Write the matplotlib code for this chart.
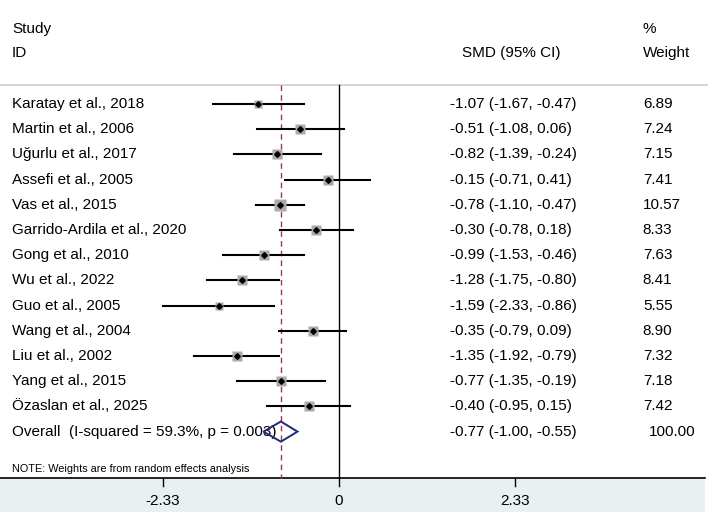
import matplotlib.pyplot as plt
from matplotlib.patches import Polygon, Rectangle

plt.rcParams['font.family'] = ['Liberation Sans', 'DejaVu Sans']

studies = ['Karatay et al., 2018', 'Martin et al., 2006', 'Uğurlu et al., 2017',
           'Assefi et al., 2005', 'Vas et al., 2015', 'Garrido-Ardila et al., 2020',
           'Gong et al., 2010', 'Wu et al., 2022', 'Guo et al., 2005',
           'Wang et al., 2004', 'Liu et al., 2002', 'Yang et al., 2015',
           'Özaslan et al., 2025']
smd = [-1.07, -0.51, -0.82, -0.15, -0.78, -0.30, -0.99, -1.28, -1.59, -0.35, -1.35, -0.77, -0.40]
lo = [-1.67, -1.08, -1.39, -0.71, -1.10, -0.78, -1.53, -1.75, -2.33, -0.79, -1.92, -1.35, -0.95]
hi = [-0.47, 0.06, -0.24, 0.41, -0.47, 0.18, -0.46, -0.80, -0.86, 0.09, -0.79, -0.19, 0.15]
weight = [6.89, 7.24, 7.15, 7.41, 10.57, 8.33, 7.63, 8.41, 5.55, 8.90, 7.32, 7.18, 7.42]

overall = -0.77
overall_lo = -1.00
overall_hi = -0.55
overall_label = 'Overall  (I-squared = 59.3%, p = 0.003)'
xticks = [-2.33, 0, 2.33]

fig = plt.figure(figsize=(7.08, 5.12), dpi=100)
ax = fig.add_axes([0, 0, 1, 1])
# x: 75.5 px per unit, zero at pixel 339 ; y: rows 25.2 px apart, first row at pixel 104
ROW = 25.2
ax.set_xlim(-339 / 75.5, (708 - 339) / 75.5)
ax.set_ylim((512 - 104) / ROW, -104 / ROW)
ax.axis('off')

def ypix(p):
    return (p - 104) / ROW

n = len(studies)
ty = ax.get_yaxis_transform()
fs = 11

# bottom shaded band and axis line
ax.add_patch(Rectangle((0, 0), 705 / 708, (512 - 478) / 512, transform=ax.transAxes,
                       facecolor='#e8f0f2', edgecolor='none', zorder=0))
ax.plot([0, 705 / 708], [ypix(478)] * 2, color='black', lw=1.2, transform=ty)
ax.plot([0, 1], [ypix(85)] * 2, color='#d0d0d0', lw=1.2, transform=ty)

# null line and overall line
ax.plot([0, 0], [ypix(85), ypix(478)], color='black', lw=1.0)
ax.plot([overall, overall], [ypix(85), ypix(478)], color='#c8283c', lw=1.0, ls=(0, (4, 3)))

for i in range(n):
    ax.plot([lo[i], hi[i]], [i, i], color='black', lw=1.5, zorder=3)
    ax.plot(smd[i], i, marker='s', ms=2.45 * weight[i] ** 0.5, color='#aaaaaa',
            mec='none', zorder=4)
    ax.plot(smd[i], i, marker='D', ms=2.9, color='black', zorder=5)
    ax.text(0.017, i, studies[i], transform=ty, fontsize=fs, va='center')
    ax.text(0.636, i, f'{smd[i]:.2f} ({lo[i]:.2f}, {hi[i]:.2f})', transform=ty,
            fontsize=fs, va='center')
    ax.text(0.908, i, f'{weight[i]:.2f}', transform=ty, fontsize=fs, va='center')

# overall diamond
yo = n
ax.add_patch(Polygon([(overall_lo, yo), (overall, yo - 0.4), (overall_hi, yo),
                      (overall, yo + 0.4)], closed=True, fill=False,
                     edgecolor='#1f2a7a', lw=1.4, zorder=5))
ax.text(0.017, yo, overall_label, transform=ty, fontsize=fs, va='center')
ax.text(0.636, yo, f'{overall:.2f} ({overall_lo:.2f}, {overall_hi:.2f})', transform=ty,
        fontsize=fs, va='center')
ax.text(0.916, yo, '100.00', transform=ty, fontsize=fs, va='center')

ax.text(0.017, ypix(469), 'NOTE: Weights are from random effects analysis', transform=ty,
        fontsize=7.8, va='center')

# headers
ax.text(0.017, ypix(29), 'Study', transform=ty, fontsize=fs, va='center')
ax.text(0.017, ypix(53), 'ID', transform=ty, fontsize=fs, va='center')
ax.text(0.652, ypix(53), 'SMD (95% CI)', transform=ty, fontsize=fs, va='center')
ax.text(0.908, ypix(29), '%', transform=ty, fontsize=fs, va='center')
ax.text(0.908, ypix(53), 'Weight', transform=ty, fontsize=fs, va='center')

# ticks
for t in xticks:
    ax.plot([t, t], [ypix(478), ypix(486)], color='black', lw=1.0)
    ax.text(t, ypix(501), f'{t:g}', fontsize=fs, ha='center', va='center')

fig.savefig('out.png', dpi=100)
